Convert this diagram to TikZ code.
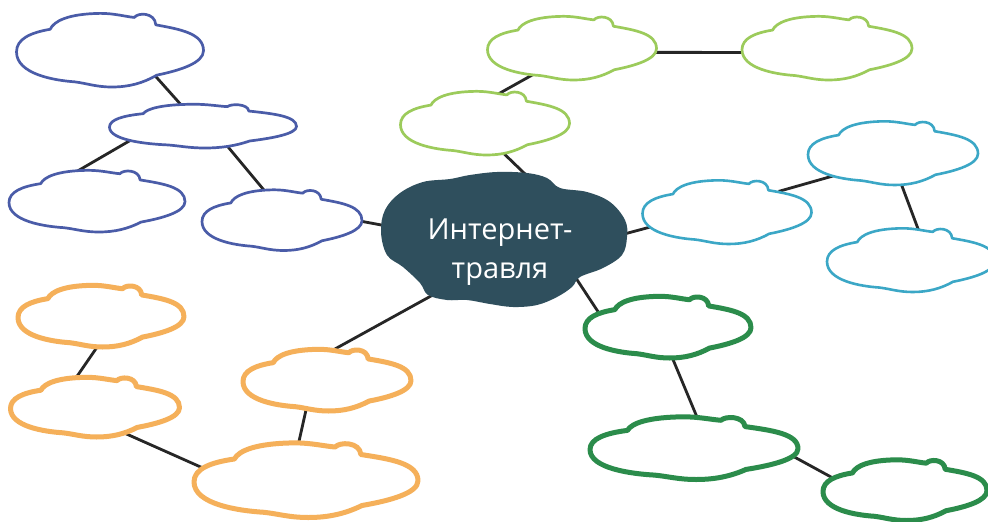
\documentclass[tikz,border=0pt]{standalone}
\usepackage{fontspec}
\newfontfamily\titlefont{Open Sans}
\usetikzlibrary{shapes.geometric}
\definecolor{cblueC}{HTML}{4A5CA8}
\definecolor{cgreenL}{HTML}{9CCB5B}
\definecolor{ccyan}{HTML}{3BA7C6}
\definecolor{cgreenD}{HTML}{2B8C4B}
\definecolor{corange}{HTML}{F5B05A}
\definecolor{cdark}{HTML}{2F4F5D}
\definecolor{clink}{HTML}{262626}
\pgfdeclarelayer{bg}
\pgfsetlayers{bg,main}
\tikzset{
  link/.style={draw=clink, line width=2.8pt, shorten <=-8pt, shorten >=-8pt},
  hublink/.style={link, shorten <=-28pt},
  anchorshape/.style={ellipse, inner sep=0pt, outer sep=0pt},
  cbluest/.style={draw=cblueC, line width=2.7pt, fill=white},
  cgreenLst/.style={draw=cgreenL, line width=2.7pt, fill=white},
  ccyanst/.style={draw=ccyan, line width=2.6pt, fill=white},
  cgreenDst/.style={draw=cgreenD, line width=5pt, fill=white},
  corangest/.style={draw=corange, line width=5pt, fill=white},
}
\newcommand\mycloud[6]{%
  \node[anchorshape, minimum width=#4pt, minimum height=#5pt] (#1) at (#2,#3) {};
  \draw[#6, line join=round, shift={(#2,#3)}, xscale=#4/2, yscale=#5/2]
    (-1,0.05)
    .. controls (-1,-0.3) and (-0.85,-0.47) .. (-0.64,-0.56)
    .. controls (-0.6,-0.78) and (-0.45,-0.98) .. (-0.1,-0.99)
    .. controls (0.05,-0.99) and (0.17,-0.9) .. (0.26,-0.88)
    .. controls (0.30,-1.02) and (0.48,-1.02) .. (0.49,-0.68)
    .. controls (0.75,-0.56) and (1,-0.45) .. (1,0.02)
    .. controls (1,0.35) and (0.75,0.55) .. (0.5,0.68)
    .. controls (0.35,0.9) and (0.2,1.0) .. (0.02,1.0)
    .. controls (-0.15,1.0) and (-0.25,0.9) .. (-0.38,0.86)
    .. controls (-0.6,0.82) and (-1,0.65) .. (-1,0.05) -- cycle;
}
\begin{document}
\begin{tikzpicture}[x=1pt,y=-1pt]
\useasboundingbox (0,0) rectangle (988,522);
\begin{pgfonlayer}{bg}
\fill[white] (0,0) rectangle (988,522);
\end{pgfonlayer}
\clip (0,0) rectangle (988,522);

% central cloud
\node[anchorshape, minimum width=247pt, minimum height=135pt] (CC) at (503,240) {};
\fill[cdark] plot[smooth cycle, tension=0.6] coordinates {
  (381,232) (385,210) (400,193) (423,182) (450,179) (470,175) (497,172)
  (527,173) (547,178) (560,188) (587,192) (610,202) (625,220) (627,237)
  (622,255) (603,268) (580,277) (572,287) (557,297) (537,305) (513,307)
  (490,304) (467,300) (447,300) (428,295) (420,283) (403,267) (387,255)};
\node[text=white, font=\titlefont\fontsize{29}{39}\selectfont, align=center, inner sep=0pt]
  (title) at (500,252) {Интернет-\\травля};

% blue
\mycloud{B1}{110}{50}{187}{74}{cbluest}
\mycloud{B2}{203}{126}{187}{44}{cbluest}
\mycloud{B3}{97}{201}{176}{62}{cbluest}
\mycloud{B4}{282}{220}{160}{61}{cbluest}
% light green
\mycloud{G1}{572}{48}{169}{64}{cgreenLst}
\mycloud{G2}{827}{48}{170}{64}{cgreenLst}
\mycloud{G3}{485}{123}{169}{64}{cgreenLst}
% cyan
\mycloud{C1}{727}{212}{169}{64}{ccyanst}
\mycloud{C2}{893}{153}{170}{64}{ccyanst}
\mycloud{C3}{911}{260}{168}{64}{ccyanst}
% dark green
\mycloud{D1}{668}{327}{166}{62}{cgreenDst}
\mycloud{D2}{694}{448}{208}{63}{cgreenDst}
\mycloud{D3}{905}{490}{164}{61}{cgreenDst}
% orange
\mycloud{O1}{101}{316}{166}{62}{corangest}
\mycloud{O2}{95}{407}{169}{60}{corangest}
\mycloud{O3}{327}{380}{168}{62}{corangest}
\mycloud{O4}{306}{480}{224}{75}{corangest}

\begin{pgfonlayer}{bg}
\draw[link] (B1.-32) -- (B2.136);
\draw[link] (B2.191) -- (B3.122);
\draw[link] (B2.-40) -- (B4.121);
\draw[hublink] (CC.173) -- (B4.-1);
\draw[hublink] (CC.72) -- (G3.-58);
\draw[link] (G3.61) -- (G1.214);
\draw[link] (G1.-3) -- (G2.183);
\draw[hublink] (CC.3) -- (C1.191);
\draw[link] (C1.21) -- (C2.201);
\draw[link] (C2.-75) -- (C3.78);
\draw[hublink] (CC.-32) -- (D1.167);
\draw[link] (D1.-82) -- (D2.85);
\draw[link] (D2.-5) -- (D3.170);
\draw[hublink] (CC.218) -- (O3.76);
\draw[link] (O3.235) -- (O4.101);
\draw[link] (O1.263) -- (O2.123);
\draw[link] (O2.-40) -- (O4.173);
\end{pgfonlayer}
\end{tikzpicture}
\end{document}
